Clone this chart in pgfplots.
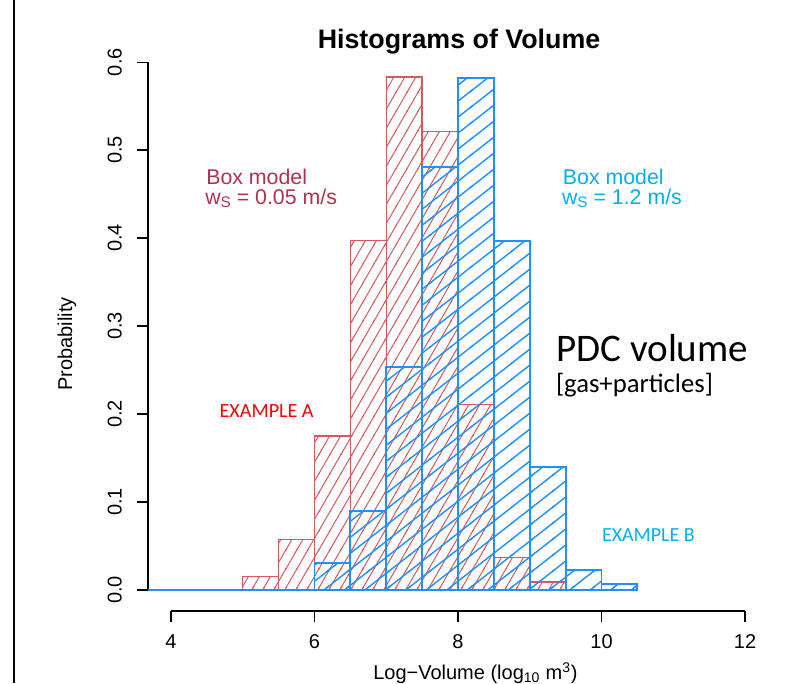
\documentclass[border=0pt]{standalone}
\usepackage{pgfplots}
\pgfplotsset{compat=1.18}
\usepackage{fontspec}
\setmainfont{Liberation Sans}
\newfontfamily\calibri{Carlito}
\usetikzlibrary{patterns}
\definecolor{redbar}{HTML}{D65A5A}
\definecolor{bluebar}{HTML}{1E90FF}
\definecolor{maroontxt}{RGB}{176,50,80}
\definecolor{skytxt}{HTML}{00B0F0}
\definecolor{exA}{HTML}{FF0000}
\definecolor{exB}{HTML}{00B0F0}

% red hatch: ~60 degrees, horizontal spacing 8.25pt
\pgfdeclarepatternformonly{redhatch}{\pgfqpoint{-1pt}{-1pt}}{\pgfqpoint{9.25pt}{15.3pt}}{\pgfqpoint{8.25pt}{14.29pt}}{
  \pgfsetlinewidth{0.75pt}
  \pgfpathmoveto{\pgfqpoint{-0.5pt}{-0.866pt}}
  \pgfpathlineto{\pgfqpoint{8.75pt}{15.156pt}}
  \pgfusepath{stroke}}
% blue hatch: ~38 degrees, vertical spacing 12pt
\pgfdeclarepatternformonly{bluehatch}{\pgfqpoint{-1pt}{-1pt}}{\pgfqpoint{16.36pt}{13pt}}{\pgfqpoint{15.36pt}{12pt}}{
  \pgfsetlinewidth{1.05pt}
  \pgfpathmoveto{\pgfqpoint{-0.788pt}{-0.616pt}}
  \pgfpathlineto{\pgfqpoint{16.148pt}{12.616pt}}
  \pgfusepath{stroke}}

\pgfplotstableread{
x y
5.0 0.015
5.5 0.057
6.0 0.175
6.5 0.397
7.0 0.583
7.5 0.521
8.0 0.211
8.5 0.037
9.0 0.009
9.5 0.000
}\redhist

\pgfplotstableread{
x y
6.0 0.031
6.5 0.090
7.0 0.253
7.5 0.481
8.0 0.582
8.5 0.397
9.0 0.140
9.5 0.023
10.0 0.007
10.5 0.000
}\bluehist

\begin{document}
\begin{tikzpicture}
\useasboundingbox (0,0) rectangle (598.5pt,-512.25pt);
% frame line at left
\draw[line width=1.1pt] (10.5pt,0) -- (10.5pt,-512.25pt);

\begin{axis}[
  at={(111pt,-458.25pt)}, anchor=south west,
  width=465pt, height=427.5pt, scale only axis,
  xmin=3.68, xmax=12.32, ymin=-0.024, ymax=0.624,
  axis lines=left, axis line style={-, draw=none},
  clip=false,
  xtick={4,6,8,10,12}, xticklabels={4,6,8,10,12},
  ytick={0,0.1,0.2,0.3,0.4,0.5,0.6},
  yticklabels={0.0,0.1,0.2,0.3,0.4,0.5,0.6},
  /pgf/number format/assume math mode=true,
  tick align=outside, major tick length=8.25pt,
  tick style={black, line width=0.9pt},
  tick label style={font=\fontsize{15}{18}\selectfont, inner sep=0pt},
  xticklabel style={anchor=north},
  yticklabel style={rotate=90, anchor=south},
  xticklabel shift=9pt,
  yticklabel shift=11.25pt,
]
\draw[line width=0.9pt] (axis cs:3.68,0) -- (axis cs:3.68,0.6);
\draw[line width=0.9pt] (axis cs:4,-0.024) -- (axis cs:12,-0.024);

\addplot[ybar interval, draw=redbar, line width=1pt,
  pattern=redhatch, pattern color=redbar]
  table[x=x, y=y] {\redhist};
\addplot[bluebar, line width=1.4pt] coordinates {(3.68,0) (6,0)};
\addplot[ybar interval, draw=bluebar, line width=1.4pt,
  pattern=bluehatch, pattern color=bluebar]
  table[x=x, y=y] {\bluehist};
\end{axis}

% title
\node[anchor=base, inner sep=0pt, font=\fontsize{20.1}{24}\selectfont\bfseries] at (344.25pt,-36.2pt) {Histograms of Volume};
% axis labels
\node[anchor=base west, inner sep=0pt, font=\fontsize{15}{18}\selectfont] at (279.75pt,-509.5pt) {Log\textminus Volume (log\textsubscript{10} m\textsuperscript{3})};
\node[rotate=90, anchor=center, inner sep=0pt, font=\fontsize{15}{18}\selectfont] at (50.25pt,-258pt) {Probability};

% box model texts
\node[anchor=base west, inner sep=0pt, text=maroontxt, font=\fontsize{16}{19}\selectfont] at (154.5pt,-138pt) {Box model};
\node[anchor=base west, inner sep=0pt, text=maroontxt, font=\fontsize{16}{19}\selectfont] at (153.75pt,-153pt) {w\raisebox{-0.35ex}{\fontsize{11.5}{13}\selectfont S} = 0.05 m/s};
\node[anchor=base west, inner sep=0pt, text=skytxt, font=\fontsize{16}{19}\selectfont] at (422pt,-138pt) {Box model};
\node[anchor=base west, inner sep=0pt, text=skytxt, font=\fontsize{16}{19}\selectfont] at (421.3pt,-153pt) {w\raisebox{-0.35ex}{\fontsize{11.5}{13}\selectfont S} = 1.2 m/s};

% PDC volume
\node[anchor=base west, inner sep=0pt, font=\calibri\fontsize{29.3}{34}\selectfont] at (417pt,-271.3pt) {PDC volume};
\node[anchor=base west, inner sep=0pt, font=\calibri\fontsize{20}{24}\selectfont] at (416.8pt,-294pt) {[gas+particles]};

% examples
\node[anchor=base west, inner sep=0pt, text=exA, font=\calibri\fontsize{15.1}{18}\selectfont] at (164.5pt,-313pt) {EXAMPLE A};
\node[anchor=base west, inner sep=0pt, text=exB, font=\calibri\fontsize{15}{18}\selectfont] at (451.3pt,-406.3pt) {EXAMPLE B};
\end{tikzpicture}
\end{document}
